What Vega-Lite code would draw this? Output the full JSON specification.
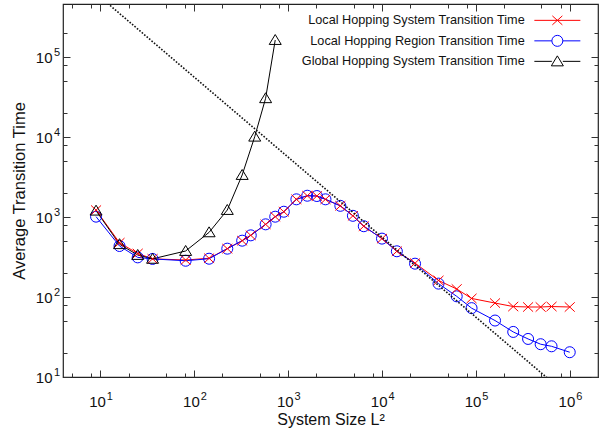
{
  "$schema": "https://vega.github.io/schema/vega-lite/v6.json",
  "autosize": "none",
  "width": 535,
  "height": 373,
  "padding": {"left": 63, "top": 4, "right": 2, "bottom": 64},
  "background": "white",
  "config": {
    "view": {"stroke": "#222", "strokeWidth": 1.2},
    "font": "Liberation Sans"
  },
  "datasets": {
    "main": [
      {"L2": 9, "time": 1220, "series": "Local Hopping System Transition Time"},
      {"L2": 16, "time": 477, "series": "Local Hopping System Transition Time"},
      {"L2": 25, "time": 350, "series": "Local Hopping System Transition Time"},
      {"L2": 36, "time": 300, "series": "Local Hopping System Transition Time"},
      {"L2": 81, "time": 290, "series": "Local Hopping System Transition Time"},
      {"L2": 144, "time": 305, "series": "Local Hopping System Transition Time"},
      {"L2": 225, "time": 402, "series": "Local Hopping System Transition Time"},
      {"L2": 324, "time": 506, "series": "Local Hopping System Transition Time"},
      {"L2": 400, "time": 590, "series": "Local Hopping System Transition Time"},
      {"L2": 576, "time": 810, "series": "Local Hopping System Transition Time"},
      {"L2": 729, "time": 1009, "series": "Local Hopping System Transition Time"},
      {"L2": 900, "time": 1164, "series": "Local Hopping System Transition Time"},
      {"L2": 1225, "time": 1664, "series": "Local Hopping System Transition Time"},
      {"L2": 1600, "time": 1845, "series": "Local Hopping System Transition Time"},
      {"L2": 2025, "time": 1830, "series": "Local Hopping System Transition Time"},
      {"L2": 2500, "time": 1664, "series": "Local Hopping System Transition Time"},
      {"L2": 3600, "time": 1380, "series": "Local Hopping System Transition Time"},
      {"L2": 4900, "time": 1035, "series": "Local Hopping System Transition Time"},
      {"L2": 6400, "time": 767, "series": "Local Hopping System Transition Time"},
      {"L2": 10000, "time": 537, "series": "Local Hopping System Transition Time"},
      {"L2": 14400, "time": 373, "series": "Local Hopping System Transition Time"},
      {"L2": 22500, "time": 265, "series": "Local Hopping System Transition Time"},
      {"L2": 40000, "time": 161, "series": "Local Hopping System Transition Time"},
      {"L2": 62500, "time": 126, "series": "Local Hopping System Transition Time"},
      {"L2": 90000, "time": 96, "series": "Local Hopping System Transition Time"},
      {"L2": 160000, "time": 84, "series": "Local Hopping System Transition Time"},
      {"L2": 250000, "time": 76, "series": "Local Hopping System Transition Time"},
      {"L2": 360000, "time": 75, "series": "Local Hopping System Transition Time"},
      {"L2": 490000, "time": 75, "series": "Local Hopping System Transition Time"},
      {"L2": 640000, "time": 76, "series": "Local Hopping System Transition Time"},
      {"L2": 1000000, "time": 75, "series": "Local Hopping System Transition Time"},
      {"L2": 9, "time": 1010, "series": "Local Hopping Region Transition Time"},
      {"L2": 16, "time": 434, "series": "Local Hopping Region Transition Time"},
      {"L2": 25, "time": 313, "series": "Local Hopping Region Transition Time"},
      {"L2": 36, "time": 299, "series": "Local Hopping Region Transition Time"},
      {"L2": 81, "time": 284, "series": "Local Hopping Region Transition Time"},
      {"L2": 144, "time": 301, "series": "Local Hopping Region Transition Time"},
      {"L2": 225, "time": 402, "series": "Local Hopping Region Transition Time"},
      {"L2": 324, "time": 506, "series": "Local Hopping Region Transition Time"},
      {"L2": 400, "time": 590, "series": "Local Hopping Region Transition Time"},
      {"L2": 576, "time": 810, "series": "Local Hopping Region Transition Time"},
      {"L2": 729, "time": 1009, "series": "Local Hopping Region Transition Time"},
      {"L2": 900, "time": 1164, "series": "Local Hopping Region Transition Time"},
      {"L2": 1225, "time": 1664, "series": "Local Hopping Region Transition Time"},
      {"L2": 1600, "time": 1845, "series": "Local Hopping Region Transition Time"},
      {"L2": 2025, "time": 1830, "series": "Local Hopping Region Transition Time"},
      {"L2": 2500, "time": 1664, "series": "Local Hopping Region Transition Time"},
      {"L2": 3600, "time": 1380, "series": "Local Hopping Region Transition Time"},
      {"L2": 4900, "time": 1035, "series": "Local Hopping Region Transition Time"},
      {"L2": 6400, "time": 767, "series": "Local Hopping Region Transition Time"},
      {"L2": 10000, "time": 537, "series": "Local Hopping Region Transition Time"},
      {"L2": 14400, "time": 373, "series": "Local Hopping Region Transition Time"},
      {"L2": 22500, "time": 261, "series": "Local Hopping Region Transition Time"},
      {"L2": 40000, "time": 147, "series": "Local Hopping Region Transition Time"},
      {"L2": 62500, "time": 102, "series": "Local Hopping Region Transition Time"},
      {"L2": 90000, "time": 72.6, "series": "Local Hopping Region Transition Time"},
      {"L2": 160000, "time": 50.8, "series": "Local Hopping Region Transition Time"},
      {"L2": 250000, "time": 36.6, "series": "Local Hopping Region Transition Time"},
      {"L2": 360000, "time": 29.9, "series": "Local Hopping Region Transition Time"},
      {"L2": 490000, "time": 25.7, "series": "Local Hopping Region Transition Time"},
      {"L2": 640000, "time": 24.2, "series": "Local Hopping Region Transition Time"},
      {"L2": 1000000, "time": 20.4, "series": "Local Hopping Region Transition Time"},
      {"L2": 9, "time": 1200, "series": "Global Hopping System Transition Time"},
      {"L2": 16, "time": 457, "series": "Global Hopping System Transition Time"},
      {"L2": 25, "time": 335, "series": "Global Hopping System Transition Time"},
      {"L2": 36, "time": 300, "series": "Global Hopping System Transition Time"},
      {"L2": 81, "time": 376, "series": "Global Hopping System Transition Time"},
      {"L2": 144, "time": 643, "series": "Global Hopping System Transition Time"},
      {"L2": 225, "time": 1223, "series": "Global Hopping System Transition Time"},
      {"L2": 324, "time": 3350, "series": "Global Hopping System Transition Time"},
      {"L2": 441, "time": 10090, "series": "Global Hopping System Transition Time"},
      {"L2": 576, "time": 30500, "series": "Global Hopping System Transition Time"},
      {"L2": 729, "time": 163000, "series": "Global Hopping System Transition Time"}
    ],
    "guide": [
      {"L2": 10, "time": 560000},
      {"L2": 1000000, "time": 5.6}
    ]
  },
  "resolve": {"axis": {"x": "independent", "y": "independent"}},
  "layer": [
    {
      "data": {"name": "main"},
      "mark": {"type": "line", "strokeWidth": 1, "clip": true},
      "encoding": {
        "x": {
          "field": "L2", "type": "quantitative",
          "scale": {"type": "log", "domain": [4, 2000000], "nice": false},
          "axis": {
            "orient": "bottom",
            "title": "System Size L²",
            "titleFont": "Liberation Sans", "titleFontSize": 16, "titleFontWeight": "normal", "titleColor": "#111",
            "titlePadding": 2,
            "values": [10, 100, 1000, 10000, 100000, 1000000],
            "labelExpr": "'10'",
            "labelFont": "Liberation Sans", "labelFontSize": 15, "labelColor": "#111",
            "labelBaseline": "middle", "labelPadding": 24, "labelOffset": -3.3,
            "labelFlush": false, "labelOverlap": false,
            "ticks": false, "domain": false, "grid": false
          }
        },
        "y": {
          "field": "time", "type": "quantitative",
          "scale": {"type": "log", "domain": [10, 460000], "nice": false},
          "axis": {
            "orient": "left",
            "title": "Average Transition Time",
            "titleFont": "Liberation Sans", "titleFontSize": 16.5, "titleFontWeight": "normal", "titleColor": "#111",
            "titlePadding": 8,
            "values": [10, 100, 1000, 10000, 100000],
            "labelExpr": "'10'",
            "labelFont": "Liberation Sans", "labelFontSize": 15, "labelColor": "#111",
            "labelBaseline": "middle", "labelPadding": 11,
            "labelFlush": false, "labelOverlap": false,
            "ticks": false, "domain": false, "grid": false
          }
        },
        "color": {
          "field": "series", "type": "nominal",
          "scale": {
            "domain": ["Local Hopping System Transition Time", "Local Hopping Region Transition Time", "Global Hopping System Transition Time"],
            "range": ["#ff0000", "#0000ff", "#000000"]
          },
          "legend": {
            "title": null,
            "orient": "none",
            "legendX": 488,
            "legendY": 10,
            "padding": 0,
            "rowPadding": 4.5,
            "symbolSize": 100,
            "symbolStrokeWidth": 1,
            "labelAlign": "right",
            "labelOffset": -39,
            "labelFont": "Liberation Sans",
            "labelFontSize": 12.7,
            "labelColor": "#111",
            "labelLimit": 0,
            "encode": {
              "symbols": {
                "update": {
                  "shape": {"signal": "datum.value === 'Local Hopping System Transition Time' ? 'M-4.6,0L4.6,0M-1,-0.9L1,0.9M-1,0.9L1,-0.9' : datum.value === 'Local Hopping Region Transition Time' ? 'M-4.6,0L-1.1,0M1.1,0L4.6,0M-1.1,0A1.1,1.1 0 1,0 1.1,0A1.1,1.1 0 1,0 -1.1,0' : 'M-4.6,0L-1.1,0M1.1,0L4.6,0M0,-1.1L1.2,0.9L-1.2,0.9Z'"},
                  "fill": {"value": "transparent"},
                  "stroke": {"scale": "color", "field": "value"},
                  "strokeWidth": {"value": 1},
                  "opacity": {"value": 1}
                }
              }
            }
          }
        }
      }
    },
    {
      "data": {"name": "main"},
      "transform": [{"filter": "datum.series === 'Local Hopping Region Transition Time'"}],
      "mark": {"type": "point", "shape": "circle", "filled": false, "strokeWidth": 1, "size": 121, "opacity": 1, "clip": true},
      "encoding": {
        "x": {
          "field": "L2", "type": "quantitative",
          "axis": {
            "orient": "top", "title": null, "labels": false, "domain": false, "grid": false,
            "values": [5, 8, 10, 20, 50, 80, 100, 200, 500, 800, 1000, 2000, 5000, 8000, 10000, 20000, 50000, 80000, 100000, 200000, 500000, 800000, 1000000],
            "tickColor": "#333", "tickWidth": 1,
            "tickSize": {"condition": {"test": "abs(log(datum.value)/LN10 - round(log(datum.value)/LN10)) < 0.000001", "value": -7}, "value": -4}
          }
        },
        "y": {
          "field": "time", "type": "quantitative",
          "axis": {
            "orient": "right", "title": null, "labels": false, "domain": false, "grid": false,
            "values": [20, 50, 80, 10, 100, 200, 500, 800, 1000, 2000, 5000, 8000, 10000, 20000, 50000, 80000, 100000, 200000],
            "tickColor": "#333", "tickWidth": 1,
            "tickSize": {"condition": {"test": "abs(log(datum.value)/LN10 - round(log(datum.value)/LN10)) < 0.000001", "value": -7}, "value": -4}
          }
        },
        "color": {"field": "series", "type": "nominal", "legend": null}
      }
    },
    {
      "data": {"name": "main"},
      "transform": [{"filter": "datum.series === 'Local Hopping System Transition Time'"}],
      "mark": {"type": "point", "shape": "M-0.91,-0.85L0.91,0.85M-0.91,0.85L0.91,-0.85", "filled": false, "strokeWidth": 1, "size": 121, "opacity": 1, "clip": true},
      "encoding": {
        "x": {
          "field": "L2", "type": "quantitative",
          "axis": {
            "orient": "bottom", "title": null, "labels": false, "domain": false, "grid": false,
            "values": [5, 8, 10, 20, 50, 80, 100, 200, 500, 800, 1000, 2000, 5000, 8000, 10000, 20000, 50000, 80000, 100000, 200000, 500000, 800000, 1000000],
            "tickColor": "#333", "tickWidth": 1,
            "tickSize": {"condition": {"test": "abs(log(datum.value)/LN10 - round(log(datum.value)/LN10)) < 0.000001", "value": -7}, "value": -4}
          }
        },
        "y": {
          "field": "time", "type": "quantitative",
          "axis": {
            "orient": "left", "title": null, "labels": false, "domain": false, "grid": false,
            "values": [20, 50, 80, 10, 100, 200, 500, 800, 1000, 2000, 5000, 8000, 10000, 20000, 50000, 80000, 100000, 200000],
            "tickColor": "#333", "tickWidth": 1,
            "tickSize": {"condition": {"test": "abs(log(datum.value)/LN10 - round(log(datum.value)/LN10)) < 0.000001", "value": -7}, "value": -4}
          }
        },
        "color": {"field": "series", "type": "nominal", "legend": null}
      }
    },
    {
      "data": {"name": "main"},
      "transform": [{"filter": "datum.series === 'Global Hopping System Transition Time'"}],
      "mark": {"type": "point", "shape": "M0,-1L1.09,0.8L-1.09,0.8Z", "filled": false, "strokeWidth": 1, "size": 121, "opacity": 1, "clip": true},
      "encoding": {
        "x": {"field": "L2", "type": "quantitative", "axis": null},
        "y": {"field": "time", "type": "quantitative", "axis": null},
        "color": {"field": "series", "type": "nominal", "legend": null}
      }
    },
    {
      "data": {"name": "guide"},
      "mark": {"type": "line", "color": "#111", "strokeWidth": 1.6, "strokeDash": [1.6, 1.6], "clip": true},
      "encoding": {
        "x": {
          "field": "L2", "type": "quantitative",
          "axis": {
            "orient": "bottom", "title": null, "domain": false, "grid": false, "ticks": false,
            "values": [10, 100, 1000, 10000, 100000, 1000000],
            "labelExpr": "format(round(log(datum.value)/LN10), 'd')",
            "labelFont": "Liberation Sans", "labelFontSize": 11, "labelColor": "#111",
            "labelBaseline": "middle", "labelAlign": "left", "labelPadding": 19.5, "labelOffset": 6,
            "labelFlush": false, "labelOverlap": false
          }
        },
        "y": {
          "field": "time", "type": "quantitative",
          "axis": {
            "orient": "left", "title": null, "domain": false, "grid": false, "ticks": false,
            "values": [10, 100, 1000, 10000, 100000],
            "labelExpr": "format(round(log(datum.value)/LN10), 'd')",
            "labelFont": "Liberation Sans", "labelFontSize": 11, "labelColor": "#111",
            "labelBaseline": "middle", "labelAlign": "right", "labelPadding": 3.5, "labelOffset": -5,
            "labelFlush": false, "labelOverlap": false
          }
        }
      }
    }
  ]
}
